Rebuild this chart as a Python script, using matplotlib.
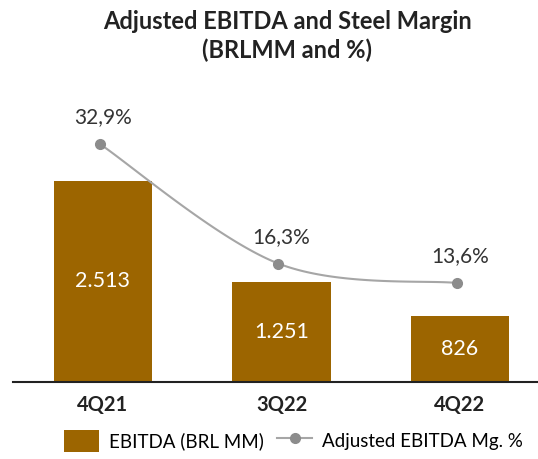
import numpy as np
import matplotlib.pyplot as plt
from matplotlib.patches import Patch
from matplotlib.lines import Line2D

# data
quarters = ['4Q21', '3Q22', '4Q22']
ebitda = [2513, 1251, 826]
ebitda_labels = ['2.513', '1.251', '826']
margin = [32.9, 16.3, 13.6]
margin_labels = ['32,9%', '16,3%', '13,6%']

bar_color = '#9C6500'
line_color = '#A6A6A6'
marker_color = '#8C8C8C'
plt.rcParams['font.family'] = ['Lato', 'DejaVu Sans']

fig = plt.figure(figsize=(5.38, 4.59), dpi=100)
W, H = 538, 459
# axes box in pixels: left 13, right 538, bottom at y=382, top at y=100
ax = fig.add_axes([13 / W, (H - 382) / H, (538 - 13) / W, (382 - 100) / H])

x = np.arange(len(quarters))
ax.bar(x, ebitda, width=0.55, color=bar_color, zorder=2)
for xi, v, lab in zip(x, ebitda, ebitda_labels):
    ax.text(xi, v / 2, lab, ha='center', va='center', color='white', fontsize=15.5)

ax.set_xlim(-0.504, 2.437)
ax.set_ylim(0, 3525)
ax.set_yticks([])
ax.set_xticks(x)
ax.set_xticklabels(quarters, fontsize=14.5, fontweight='bold', color='#222222')
ax.tick_params(axis='x', length=0, pad=9)
for s in ['top', 'right', 'left']:
    ax.spines[s].set_visible(False)
ax.spines['bottom'].set_linewidth(1.5)
ax.spines['bottom'].set_color('#222222')

# margin line on a second axis
ax2 = ax.twinx()
ax2.set_ylim(-0.15, 39.02)
ax2.axis('off')

# smooth curve through the points (Catmull-Rom, like Excel smoothed line)
px = np.array(x, dtype=float)
py = np.array(margin, dtype=float)
P = np.column_stack([px, py])
P = np.vstack([P[0], P, P[-1]])
xs, ys = [], []
t = np.linspace(0, 1, 60)
for i in range(1, len(P) - 2):
    p0, p1, p2, p3 = P[i - 1], P[i], P[i + 1], P[i + 2]
    c = 0.5 * ((2 * p1)[:, None] + (-p0 + p2)[:, None] * t
               + (2 * p0 - 5 * p1 + 4 * p2 - p3)[:, None] * t ** 2
               + (-p0 + 3 * p1 - 3 * p2 + p3)[:, None] * t ** 3)
    xs.extend(c[0])
    ys.extend(c[1])
ax2.plot(np.array(xs) - 0.017, ys, color=line_color, lw=1.5, zorder=3)
ax2.plot(px - 0.017, py, 'o', color=marker_color, ms=7, zorder=4)
for xi, v, lab in zip(px, py, margin_labels):
    ax2.annotate(lab, (xi, v), xytext=(0, 12), textcoords='offset points',
                 ha='center', va='bottom', fontsize=15, color='#333333',
                 bbox=dict(facecolor='white', edgecolor='none', pad=1.0), zorder=5)

fig.text(0.534, 0.978, 'Adjusted EBITDA and Steel Margin\n(BRLMM and %)',
         ha='center', va='top', fontsize=17, fontweight='bold',
         color='#222222', linespacing=1.3)

handles = [Patch(facecolor=bar_color, label='EBITDA (BRL MM)'),
           Line2D([0], [0], color=line_color, lw=1.5, marker='o',
                  markerfacecolor=marker_color, markeredgecolor=marker_color,
                  ms=7, label='Adjusted EBITDA Mg. %')]
fig.legend(handles=handles, loc='center', bbox_to_anchor=(0.545, (H - 441) / H),
           ncol=2, frameon=False, fontsize=13.5, handlelength=1.9,
           handleheight=1.5, columnspacing=0.7, handletextpad=0.5)

fig.savefig('out.png', dpi=100)
